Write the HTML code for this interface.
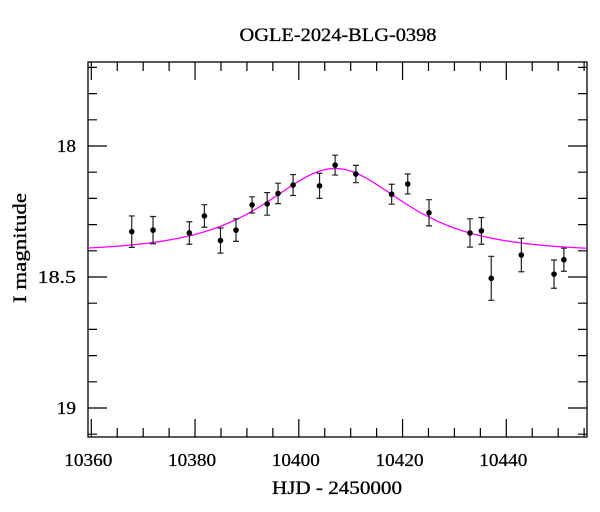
<!DOCTYPE html>
<html><head><meta charset="utf-8"><style>
body{margin:0;background:#fff}
svg{display:block;font-family:"Liberation Serif",serif}
</style></head><body>
<svg id="c" width="600" height="512">
<text x="338" y="41" font-size="19" text-anchor="middle" textLength="197" lengthAdjust="spacingAndGlyphs" stroke="#000" stroke-width="0.3">OGLE-2024-BLG-0398</text>
<text x="337" y="494" font-size="19" text-anchor="middle" textLength="130" lengthAdjust="spacingAndGlyphs" stroke="#000" stroke-width="0.3">HJD - 2450000</text>
<text transform="translate(26,248) rotate(-90)" font-size="19" text-anchor="middle" textLength="110" lengthAdjust="spacingAndGlyphs" stroke="#000" stroke-width="0.3">I magnitude</text>
<g id="axes"></g>
<g id="marks"></g>
</svg>
<script>
const hjd=[10367.8,10371.9,10378.9,10381.8,10384.9,10387.9,10391.0,10393.9,10396.0,10398.9,10404.0,10407.0,10411.0,10417.9,10421.0,10425.1,10433.0,10435.2,10437.1,10442.9,10449.2,10451.1];
const mag=[18.327,18.321,18.332,18.267,18.361,18.321,18.225,18.221,18.181,18.149,18.152,18.073,18.107,18.184,18.145,18.255,18.332,18.324,18.505,18.416,18.489,18.434];
const err=[0.060,0.052,0.043,0.043,0.048,0.043,0.031,0.043,0.039,0.040,0.048,0.038,0.033,0.038,0.038,0.050,0.054,0.051,0.084,0.064,0.054,0.044];
const xTicks=[10360,10380,10400,10420,10440];
const yTicks=[18,18.5,19];
const model={t0:10407.0,u0:1.0,tE:16,base:18.405};
const L=88,R=587,T=62,B=437;
const X=v=>91.3+(v-10360)*5.1875;
const Y=m=>146+(m-18)*262;
const NS="http://www.w3.org/2000/svg";
const ax=document.getElementById('axes'),mk=document.getElementById('marks');
function el(p,tag,a){const e=document.createElementNS(NS,tag);for(const k in a)e.setAttribute(k,a[k]);p.appendChild(e);return e;}
const fr=el(ax,'rect',{x:L,y:T,width:R-L,height:B-T,fill:'none',stroke:'#000','stroke-width':1.3});


let d='';
for(let v=10360;v<=10455;v+=5){const x=X(v);if(x>R)continue;const len=(v%20===0)?18:9;d+=`M${x},${B}v${-len}M${x},${T}v${len}`;}
for(let i=0;i<=14;i++){const m=17.7+i*0.1;const y=Y(m);if(y<T||y>B)continue;const maj=Math.abs(m*2-Math.round(m*2))<1e-6;const len=maj?19:9;d+=`M${L},${y}h${len}M${R},${y}h${-len}`;}
const tk=el(ax,'path',{d:d,stroke:'#000','stroke-width':1.2,fill:'none'});


xTicks.forEach(v=>{const t=el(ax,'text',{x:X(v)-3,y:B+29,'font-size':18,'text-anchor':'middle',textLength:48,lengthAdjust:'spacingAndGlyphs',stroke:'#000','stroke-width':0.25});t.textContent=v;

});
yTicks.forEach(v=>{const s=String(v);const t=el(ax,'text',{x:L-12,y:Y(v)+6,'font-size':18,'text-anchor':'end',textLength:s.length*9.6,lengthAdjust:'spacingAndGlyphs',stroke:'#000','stroke-width':0.25});t.textContent=s;

});
let pd='';
for(let x=L;x<=R;x+=1){const t=10360+(x-91.3)/5.1875;const tau=(t-model.t0)/model.tE;const u=Math.sqrt(model.u0*model.u0+tau*tau);const A=(u*u+2)/(u*Math.sqrt(u*u+4));const m=model.base-2.5*Math.log10(A);pd+=(x===L?'M':'L')+x+','+Y(m).toFixed(2);}
const cv=el(mk,'path',{d:pd,stroke:'#f0f',fill:'none','stroke-width':1.3});


hjd.forEach((h,i)=>{const x=X(h),y=Y(mag[i]),y1=Y(mag[i]-err[i]),y2=Y(mag[i]+err[i]);
const e=el(mk,'path',{d:`M${x},${y1}V${y2}M${x-3},${y1}h6M${x-3},${y2}h6`,stroke:'#222','stroke-width':1.2,fill:'none'});


const c=el(mk,'circle',{cx:x,cy:y,r:2.8,fill:'#000'});

});
</script>
</body></html>
